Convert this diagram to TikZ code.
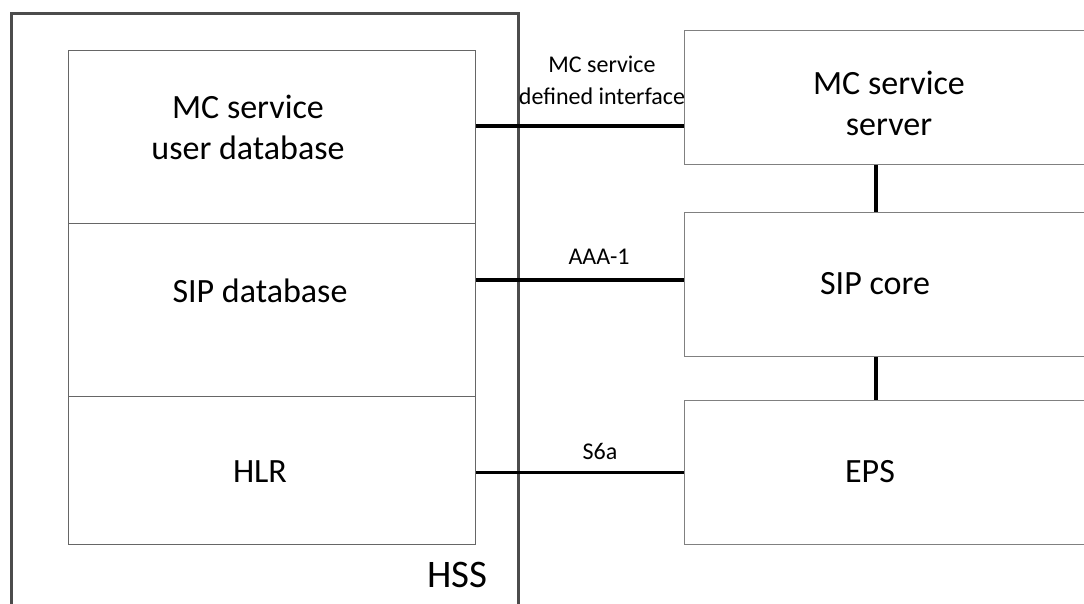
\documentclass[tikz,border=0pt]{standalone}
\usepackage{fontspec}
\setmainfont{Carlito}
\begin{document}
\begin{tikzpicture}[x=1pt,y=-1pt,
  big/.style={font=\fontsize{34}{41}\selectfont, align=center, inner sep=0pt},
  small/.style={font=\fontsize{24}{32}\selectfont, align=center, inner sep=0pt},
  hssbox/.style={draw=black!70, line width=3pt, inner sep=0pt, anchor=north west},
  dbbox/.style={draw=black!60, line width=1pt, inner sep=0pt, anchor=north west, minimum width=407pt},
  netbox/.style={draw=black!50, line width=1pt, inner sep=0pt, anchor=north west, minimum width=436pt},
  link/.style={draw=black, line width=3.5pt},
]
\useasboundingbox (0,0) rectangle (1084,603);
\clip (0,0) rectangle (1084,603);
\fill[white] (0,0) rectangle (1084,603);

% HSS container
\node[hssbox, minimum width=507pt, minimum height=630pt] (hss) at (9.5,11.5) {};

% HSS internal databases
\node[dbbox, minimum height=173pt] (udb) at (68,49.5) {};
\node[dbbox, minimum height=173.2pt] (sipdb) at (68,222.5) {};
\node[dbbox, minimum height=148.3pt] (hlr) at (68,395.7) {};

% network entities
\node[netbox, minimum height=134.3pt] (srv) at (683.5,30) {};
\node[netbox, minimum height=144.3pt] (sipc) at (683.5,211.7) {};
\node[netbox, minimum height=144pt] (eps) at (683.5,400) {};

% connectors
\coordinate (y1) at (0,126);
\coordinate (y2) at (0,280);
\coordinate (y3) at (0,472.3);
\coordinate (xv) at (876,0);
\draw[link] (udb.east |- y1) -- (srv.west |- y1);
\draw[link] (sipdb.east |- y2) -- (sipc.west |- y2);
\draw[link] (hlr.east |- y3) -- (eps.west |- y3);
\draw[link] (srv.south -| xv) -- (sipc.north -| xv);
\draw[link] (sipc.south -| xv) -- (eps.north -| xv);

% interface labels
\node[small] (l1) at (602,80) {MC service\\defined interface};
\node[small] (l2) at (599,256.5) {AAA-1};
\node[small] (l3) at (600,451.7) {S6a};

% box texts
\node[big] (tudb) at (248,127) {MC service\\user database};
\node[big] (tsipdb) at (260,290.5) {SIP database};
\node[big] (thlr) at (260,472) {HLR};
\node[big] (tsrv) at (889,103.5) {MC service\\server};
\node[big] (tsipc) at (875,283.5) {SIP core};
\node[big] (teps) at (870,472) {EPS};
\node[font=\fontsize{39}{45}\selectfont, inner sep=0pt] (thss) at (457.5,575) {HSS};
\end{tikzpicture}
\end{document}
